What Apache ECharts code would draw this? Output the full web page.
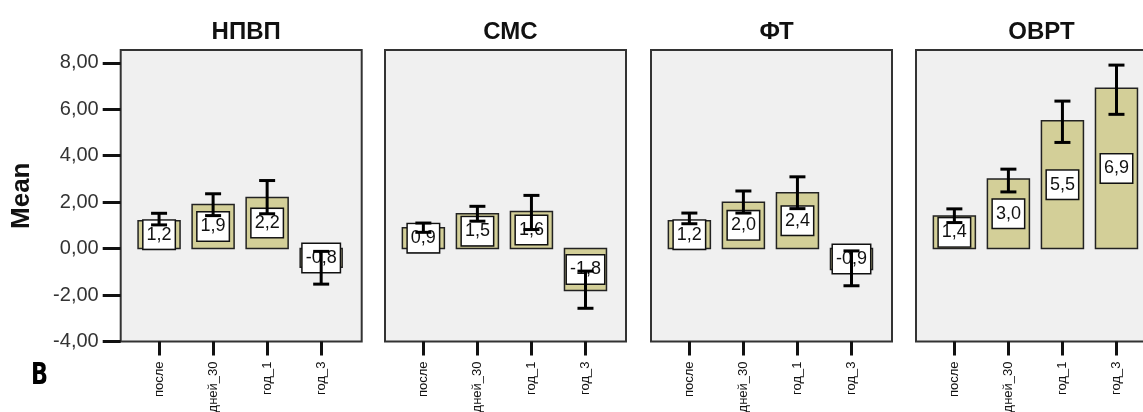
<!DOCTYPE html>
<html>
<head>
<meta charset="utf-8">
<script src="https://cdn.jsdelivr.net/npm/echarts@6/dist/echarts.min.js"></script>
<style>html,body{margin:0;padding:0;background:#fff;}#c{width:1143px;height:412px;}</style>
</head>
<body>
<div id="c"></div>
<script>
// ---- data ----
const categories = ['после', 'дней_30', 'год_1', 'год_3'];
const panelTitles = ['НПВП', 'СМС', 'ФТ', 'ОВРТ'];
const yTicks = [-4, -2, 0, 2, 4, 6, 8];

const npvpMean = [1.2, 1.9, 2.2, -0.8];
const npvpLow  = [1.02, 1.42, 1.5, -1.53];
const npvpHigh = [1.52, 2.36, 2.93, -0.12];

const smsMean = [0.9, 1.5, 1.6, -1.8];
const smsLow  = [0.7, 1.18, 0.82, -2.57];
const smsHigh = [1.10, 1.82, 2.29, -0.97];

const ftMean = [1.2, 2.0, 2.4, -0.9];
const ftLow  = [1.07, 1.53, 1.72, -1.6];
const ftHigh = [1.53, 2.48, 3.09, -0.1];

const ovrtMean = [1.4, 3.0, 5.5, 6.9];
const ovrtLow  = [1.12, 2.44, 4.57, 5.78];
const ovrtHigh = [1.71, 3.42, 6.35, 7.9];

const panelData = [
  [npvpMean, npvpLow, npvpHigh],
  [smsMean, smsLow, smsHigh],
  [ftMean, ftLow, ftHigh],
  [ovrtMean, ovrtLow, ovrtHigh]
];

// ---- layout / style ----
const gridLefts = [120.7, 385, 651, 916];
const gridW = 241, gridTop = 50, gridH = 291.5;
const FONT = '"Liberation Sans", Arial, sans-serif';
const fmt1 = v => v.toFixed(1).replace('.', ',');
const fmt2 = v => v.toFixed(2).replace('.', ',');

function renderItem(params, api) {
  const x = api.value(0), m = api.value(1), lo = api.value(2), hi = api.value(3);
  const base = api.coord([x, 0]);
  const top = api.coord([x, m]);
  const mid = api.coord([x, m / 2]);
  const pHi = api.coord([x, hi]);
  const pLo = api.coord([x, lo]);
  const half = 21, cap = 8;
  const yTop = Math.min(base[1], top[1]);
  const h = Math.abs(base[1] - top[1]);
  return {
    type: 'group',
    children: [
      { type: 'rect', z2: 0,
        shape: { x: base[0] - half, y: yTop, width: 2 * half, height: h },
        style: { fill: '#d3cf98', stroke: '#222', lineWidth: 1.5 } },
      { type: 'text', z2: 1, x: mid[0], y: mid[1],
        style: { text: fmt1(m), font: '18px ' + FONT, fill: '#111',
                 align: 'center', verticalAlign: 'middle',
                 backgroundColor: '#fff', borderColor: '#111', borderWidth: 1.5,
                 padding: [6, 3, 4, 3] } },
      { type: 'line', z2: 2, shape: { x1: pHi[0], y1: pHi[1], x2: pLo[0], y2: pLo[1] },
        style: { stroke: '#000', lineWidth: 3 } },
      { type: 'line', z2: 2, shape: { x1: pHi[0] - cap, y1: pHi[1], x2: pHi[0] + cap, y2: pHi[1] },
        style: { stroke: '#000', lineWidth: 3 } },
      { type: 'line', z2: 2, shape: { x1: pLo[0] - cap, y1: pLo[1], x2: pLo[0] + cap, y2: pLo[1] },
        style: { stroke: '#000', lineWidth: 3 } }
    ]
  };
}

const grids = [], xAxes = [], yAxes = [], series = [], titles = [];
for (let i = 0; i < 4; i++) {
  grids.push({ left: gridLefts[i], top: gridTop, width: gridW, height: gridH,
    outerBoundsMode: 'none', containLabel: false,
    show: true, backgroundColor: '#f0f0f0', borderColor: '#333', borderWidth: 2 });
  titles.push({ text: panelTitles[i], left: gridLefts[i] + gridW / 2, top: 15, textAlign: 'center',
    textStyle: { fontFamily: FONT, fontWeight: 'bold', fontSize: 24, color: '#111' } });
  xAxes.push({
    type: 'value', gridIndex: i, min: 0.29, max: 4.75, position: 'bottom',
    axisLine: { show: false, onZero: false }, splitLine: { show: false },
    axisTick: { show: true, customValues: [1, 2, 3, 4], length: 14, lineStyle: { color: '#111', width: 3 } },
    axisLabel: { customValues: [1, 2, 3, 4], rotate: 90, margin: 20, fontSize: 13, color: '#111',
      fontFamily: FONT, formatter: v => categories[Math.round(v) - 1] }
  });
  const y = {
    type: 'value', gridIndex: i, min: -4, max: 8.55,
    axisLine: { show: false, onZero: false }, splitLine: { show: false },
    axisTick: { show: i === 0, customValues: yTicks, length: 18, lineStyle: { color: '#111', width: 3 } },
    axisLabel: { show: i === 0, customValues: yTicks, margin: 22, fontSize: 20, color: '#333',
      fontFamily: FONT, formatter: v => fmt2(v) }
  };
  if (i === 0) {
    y.name = 'Mean'; y.nameLocation = 'middle'; y.nameGap = 86;
    y.nameTextStyle = { fontWeight: 'bold', fontSize: 26, color: '#111', fontFamily: FONT };
  }
  yAxes.push(y);
  const [mean, low, high] = panelData[i];
  series.push({
    type: 'custom', xAxisIndex: i, yAxisIndex: i, renderItem: renderItem, clip: false,
    data: categories.map((c, k) => [k + 1, mean[k], low[k], high[k]])
  });
}

const chart = echarts.init(document.getElementById('c'), null, { renderer: 'canvas' });
chart.setOption({
  animation: false,
  backgroundColor: '#fff',
  title: titles,
  grid: grids,
  xAxis: xAxes,
  yAxis: yAxes,
  series: series,
  graphic: [{ type: 'text', x: 31, y: 360, scaleX: 0.72,
    style: { text: 'B', fontFamily: '"DejaVu Sans", sans-serif', fontWeight: 'bold', fontSize: 31, fill: '#000' } }]
});
</script>
</body>
</html>
